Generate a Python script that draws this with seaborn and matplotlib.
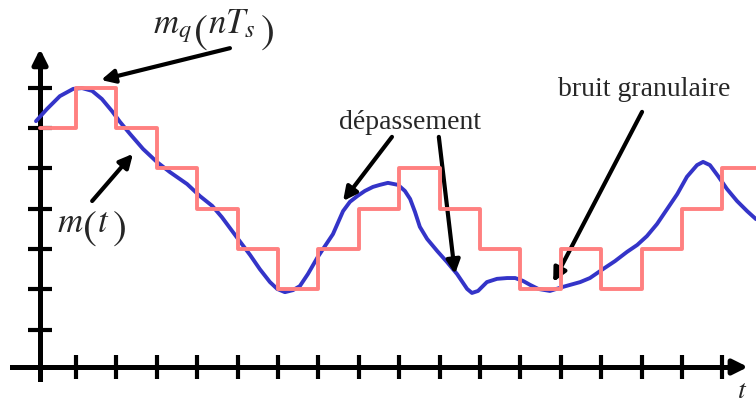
import matplotlib
matplotlib.use("Agg")
import matplotlib.pyplot as plt
import pandas as pd
import seaborn as sns

# signal m(t) (t in sample periods, amplitude in steps)
t_signal = [0.01, 0.28, 0.60, 0.93, 1.15, 1.40, 1.64, 1.89, 2.09, 2.34, 2.66, 3.00,
            3.32, 3.75, 4.07, 4.37, 4.61, 5.01, 5.31, 5.55, 5.80, 5.98, 6.17, 6.37,
            6.54, 6.74, 6.97, 7.16, 7.36, 7.61, 7.78, 7.96, 8.15, 8.35, 8.52, 8.72,
            8.97, 9.14, 9.27, 9.39, 9.51, 9.69, 9.94, 10.18, 10.43, 10.68, 10.80,
            10.95, 11.17, 11.42, 11.67, 11.87, 12.06, 12.24, 12.44, 12.73, 13.05,
            13.48, 13.72, 14.04, 14.34, 14.64, 14.89, 15.13, 15.38, 15.63, 15.88,
            16.12, 16.37, 16.52, 16.69, 16.89, 17.11, 17.36, 17.61, 17.83]
m_signal = [6.17, 6.47, 6.79, 6.97, 6.99, 6.92, 6.72, 6.42, 6.15, 5.85, 5.48, 5.16,
            4.91, 4.61, 4.31, 4.07, 3.79, 3.25, 2.85, 2.50, 2.18, 2.01, 1.93, 1.98,
            2.08, 2.38, 2.78, 3.07, 3.37, 3.94, 4.17, 4.31, 4.44, 4.54, 4.59, 4.64,
            4.59, 4.44, 4.24, 3.92, 3.55, 3.25, 2.95, 2.68, 2.38, 2.01, 1.91,
            1.96, 2.18, 2.26, 2.28, 2.28, 2.21, 2.11, 2.01, 1.96, 2.06,
            2.18, 2.28, 2.50, 2.70, 2.93, 3.10, 3.32, 3.62, 3.99, 4.36,
            4.79, 5.08, 5.16, 5.08, 4.81, 4.49, 4.19, 3.94, 3.74]

# staircase mq(nTs)
t_steps = [0.11, 1, 2, 3, 4, 5, 6, 7, 8, 9, 10, 11, 12, 13, 14, 15, 16, 17, 17.83]
mq_steps = [6, 7, 6, 5, 4, 3, 2, 3, 4, 5, 4, 3, 2, 3, 2, 3, 4, 5, 5]

x_ticks = list(range(1, 18))
y_ticks = list(range(1, 8))

df_m = pd.DataFrame({'t': t_signal, 'm': m_signal})
df_q = pd.DataFrame({'t': t_steps, 'mq': mq_steps})

sns.set_theme(style='white')
plt.rcParams['mathtext.fontset'] = 'stix'

fig = plt.figure(figsize=(7.56, 4.02), dpi=100)
ax = fig.add_axes([0, 0, 1, 1])

sns.lineplot(data=df_m, x='t', y='m', color='#3434C8', linewidth=2.8, ax=ax, zorder=3,
             solid_joinstyle='round', solid_capstyle='round')
sns.lineplot(data=df_q, x='t', y='mq', color='#FF8080', linewidth=2.8,
             drawstyle='steps-post', ax=ax, zorder=4)

ax.set_xlim(-0.881, 17.83)
ax.set_ylim(-0.769, 9.199)
ax.set_xlabel('')
ax.set_ylabel('')

# axes through the origin with crossing ticks
for s in ['top', 'right']:
    ax.spines[s].set_visible(False)
ax.spines['left'].set_position(('data', 0.11))
ax.spines['bottom'].set_position(('data', 0.074))
ax.spines['left'].set_bounds(-0.22, 7.7)
ax.spines['bottom'].set_bounds(-0.58, 17.4)
for s in ['left', 'bottom']:
    ax.spines[s].set_linewidth(3.6)
    ax.spines[s].set_color('black')
ax.set_xticks(x_ticks)
ax.set_yticks(y_ticks)
ax.set_xticklabels([])
ax.set_yticklabels([])
ax.tick_params(direction='inout', length=17, width=3, color='black',
               bottom=True, left=True)

head = dict(arrowstyle='-|>', color='black', lw=3.6, mutation_scale=22,
            shrinkA=0, shrinkB=0)
ax.annotate('', xy=(17.63, 0.074), xytext=(17.2, 0.074), arrowprops=head)
ax.annotate('', xy=(0.11, 7.96), xytext=(0.11, 7.5), arrowprops=head)

# labels and pointers
arrow = dict(arrowstyle='-|>', color='black', lw=3, mutation_scale=20,
             shrinkA=0, shrinkB=0)
serif = 'Liberation Serif'

# m_q(nT_s) with tall parentheses
ax.text(2.91, 8.38, r'$m_q$', fontsize=25, ha='left', va='baseline')
ax.text(4.09, 8.44, r'$($', fontsize=30, ha='center', va='center')
ax.text(4.27, 8.38, r'$nT_s$', fontsize=25, ha='left', va='baseline')
ax.text(5.72, 8.44, r'$)$', fontsize=30, ha='center', va='center')
ax.annotate('', xy=(1.62, 7.19), xytext=(4.81, 7.98), arrowprops=arrow)

# m(t)
ax.text(0.53, 3.45, r'$m$', fontsize=25, ha='left', va='baseline')
ax.text(1.33, 3.57, r'$($', fontsize=30, ha='center', va='center')
ax.text(1.52, 3.45, r'$t$', fontsize=25, ha='left', va='baseline')
ax.text(2.06, 3.57, r'$)$', fontsize=30, ha='center', va='center')
ax.annotate('', xy=(2.41, 5.36), xytext=(1.40, 4.19), arrowprops=arrow)

ax.text(9.27, 6.17, 'dépassement', fontsize=20, family=serif, ha='center', va='center')
ax.annotate('', xy=(7.61, 4.19), xytext=(8.82, 5.78), arrowprops=arrow)
ax.annotate('', xy=(10.38, 2.38), xytext=(9.98, 5.78), arrowprops=arrow)

ax.text(15.06, 6.97, 'bruit granulaire', fontsize=20, family=serif, ha='center', va='center')
ax.annotate('', xy=(12.81, 2.18), xytext=(15.01, 6.40), arrowprops=arrow)

ax.text(17.48, -0.48, r'$t$', fontsize=20, ha='center', va='center')

fig.savefig('out.png', dpi=100)
